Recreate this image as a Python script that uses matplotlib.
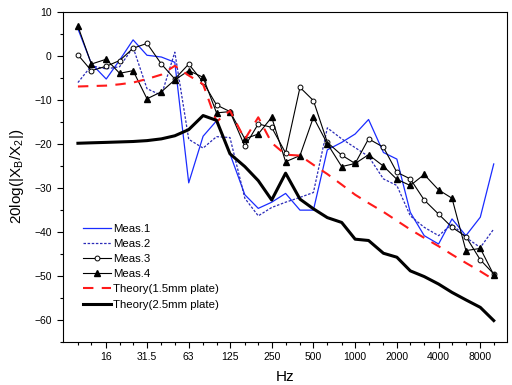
import matplotlib
matplotlib.use('Agg')
import matplotlib.pyplot as plt
from matplotlib.ticker import FixedLocator, NullFormatter, MultipleLocator

plt.rcParams['font.family'] = ['Liberation Sans', 'DejaVu Sans']
plt.rcParams['mathtext.fontset'] = 'custom'
plt.rcParams['mathtext.rm'] = 'Liberation Sans'
plt.rcParams['mathtext.it'] = 'Liberation Sans'

# 1/3 octave band centres (Hz)
freqs = [10, 12.5, 16, 20, 25, 31.5, 40, 50, 63, 80, 100, 125, 160, 200, 250,
         315, 400, 500, 630, 800, 1000, 1250, 1600, 2000, 2500, 3150, 4000,
         5000, 6300, 8000, 10000]
tick_freqs = [16, 31.5, 63, 125, 250, 500, 1000, 2000, 4000, 8000]
tick_labels = ['16', '31.5', '63', '125', '250', '500', '1000', '2000', '4000', '8000']

meas1 = [6.1, -1.8, -5.3, -1.0, 3.6, 0.1, -0.3, -1.5, -28.9, -18.3, -14.8,
         -22.3, -31.6, -34.7, -33.3, -31.3, -35.1, -35.1, -21.4, -19.7, -17.8,
         -14.5, -22.0, -23.5, -35.6, -40.9, -42.8, -37.1, -40.9, -36.7, -24.6]
meas2 = [-6.1, -2.3, -3.0, -2.5, 1.9, -7.5, -9.0, 0.8, -19.0, -21.0, -18.4,
         -18.6, -32.4, -36.4, -34.5, -33.3, -32.2, -31.1, -16.4, -18.9, -20.9,
         -22.9, -28.0, -29.5, -36.4, -39.0, -40.9, -38.3, -41.3, -43.6, -39.4]
meas3 = [0.2, -3.4, -2.4, -1.1, 1.7, 2.8, -1.9, -5.3, -1.9, -6.0, -11.2,
         -12.7, -20.6, -15.5, -16.3, -22.1, -7.2, -10.2, -19.7, -22.6, -24.5,
         -18.9, -20.8, -26.5, -28.0, -32.8, -36.0, -39.0, -41.1, -46.4, -49.6]
meas4 = [6.7, -1.9, -0.8, -4.0, -3.4, -9.8, -8.2, -5.5, -3.4, -4.9, -13.0,
         -12.7, -18.9, -17.8, -14.0, -24.1, -22.7, -14.0, -20.0, -25.2, -24.5,
         -22.5, -25.1, -28.1, -29.5, -27.0, -30.5, -32.4, -44.3, -43.8, -49.8]
theory15 = [-7.0, -6.9, -6.8, -6.5, -6.1, -5.3, -4.3, -2.3, -4.5, -6.5, -15.0,
            -12.5, -19.0, -14.0, -19.8, -22.5, -22.7, -24.8, -26.9, -29.3, -31.6,
            -33.5, -35.5, -37.5, -39.5, -41.4, -43.3, -45.2, -47.1, -49.0, -50.9]
theory25 = [-19.9, -19.8, -19.7, -19.6, -19.5, -19.3, -18.9, -18.2, -16.8, -13.6,
            -14.7, -22.3, -25.2, -28.4, -32.8, -26.7, -32.6, -34.8, -36.8, -37.9,
            -41.7, -42.0, -44.9, -45.8, -48.9, -50.2, -51.9, -53.8, -55.5, -57.2,
            -60.2]

fig = plt.figure(figsize=(5.12, 3.85), dpi=100)
ax = fig.add_axes([0.123, 0.1125, 0.867, 0.8571])

ax.plot(freqs, meas1, color='#1a2cff', lw=0.9, label='Meas.1')
ax.plot(freqs, meas2, color='#2a2ab8', lw=0.9, ls=(0, (2, 1.3)), label='Meas.2')
ax.plot(freqs, meas3, color='black', lw=0.8, marker='o', ms=3.5,
        mfc='white', mec='black', mew=0.7, label='Meas.3')
ax.plot(freqs, meas4, color='black', lw=0.8, marker='^', ms=4.0,
        mfc='black', mec='black', label='Meas.4')
ax.plot(freqs, theory15, color='#ff1a1a', lw=1.5, ls=(0, (5, 4)),
        label='Theory(1.5mm plate)')
ax.plot(freqs, theory25, color='black', lw=2.2, label='Theory(2.5mm plate)')

ax.set_xscale('log')
ax.set_xlim(7.8, 12440)
ax.set_ylim(-65, 10)
ax.xaxis.set_major_locator(FixedLocator(tick_freqs))
ax.xaxis.set_minor_locator(FixedLocator(freqs))
ax.set_xticklabels(tick_labels)
ax.xaxis.set_minor_formatter(NullFormatter())
ax.yaxis.set_major_locator(MultipleLocator(10))
ax.yaxis.set_minor_locator(MultipleLocator(5))

ax.tick_params(which='major', direction='out', length=4.5, width=0.8,
               labelsize=7.5, top=False, right=False)
ax.tick_params(which='minor', direction='out', length=2.5, width=0.8,
               top=False, right=False)
ax.tick_params(axis='x', which='major', pad=3)
for s in ax.spines.values():
    s.set_linewidth(0.8)

ax.set_xlabel('Hz', fontsize=11, labelpad=6)
ax.set_ylabel(r'20log(|X$_{\rm B}$/X$_{\rm 2}$|)', fontsize=11, labelpad=6)

ax.legend(loc='upper left', bbox_to_anchor=(0.046, 0.357), frameon=False,
          fontsize=8.2, handlelength=2.4, handletextpad=0.2, labelspacing=0.45,
          borderpad=0, borderaxespad=0, numpoints=1)

fig.savefig('out.png', dpi=100)
